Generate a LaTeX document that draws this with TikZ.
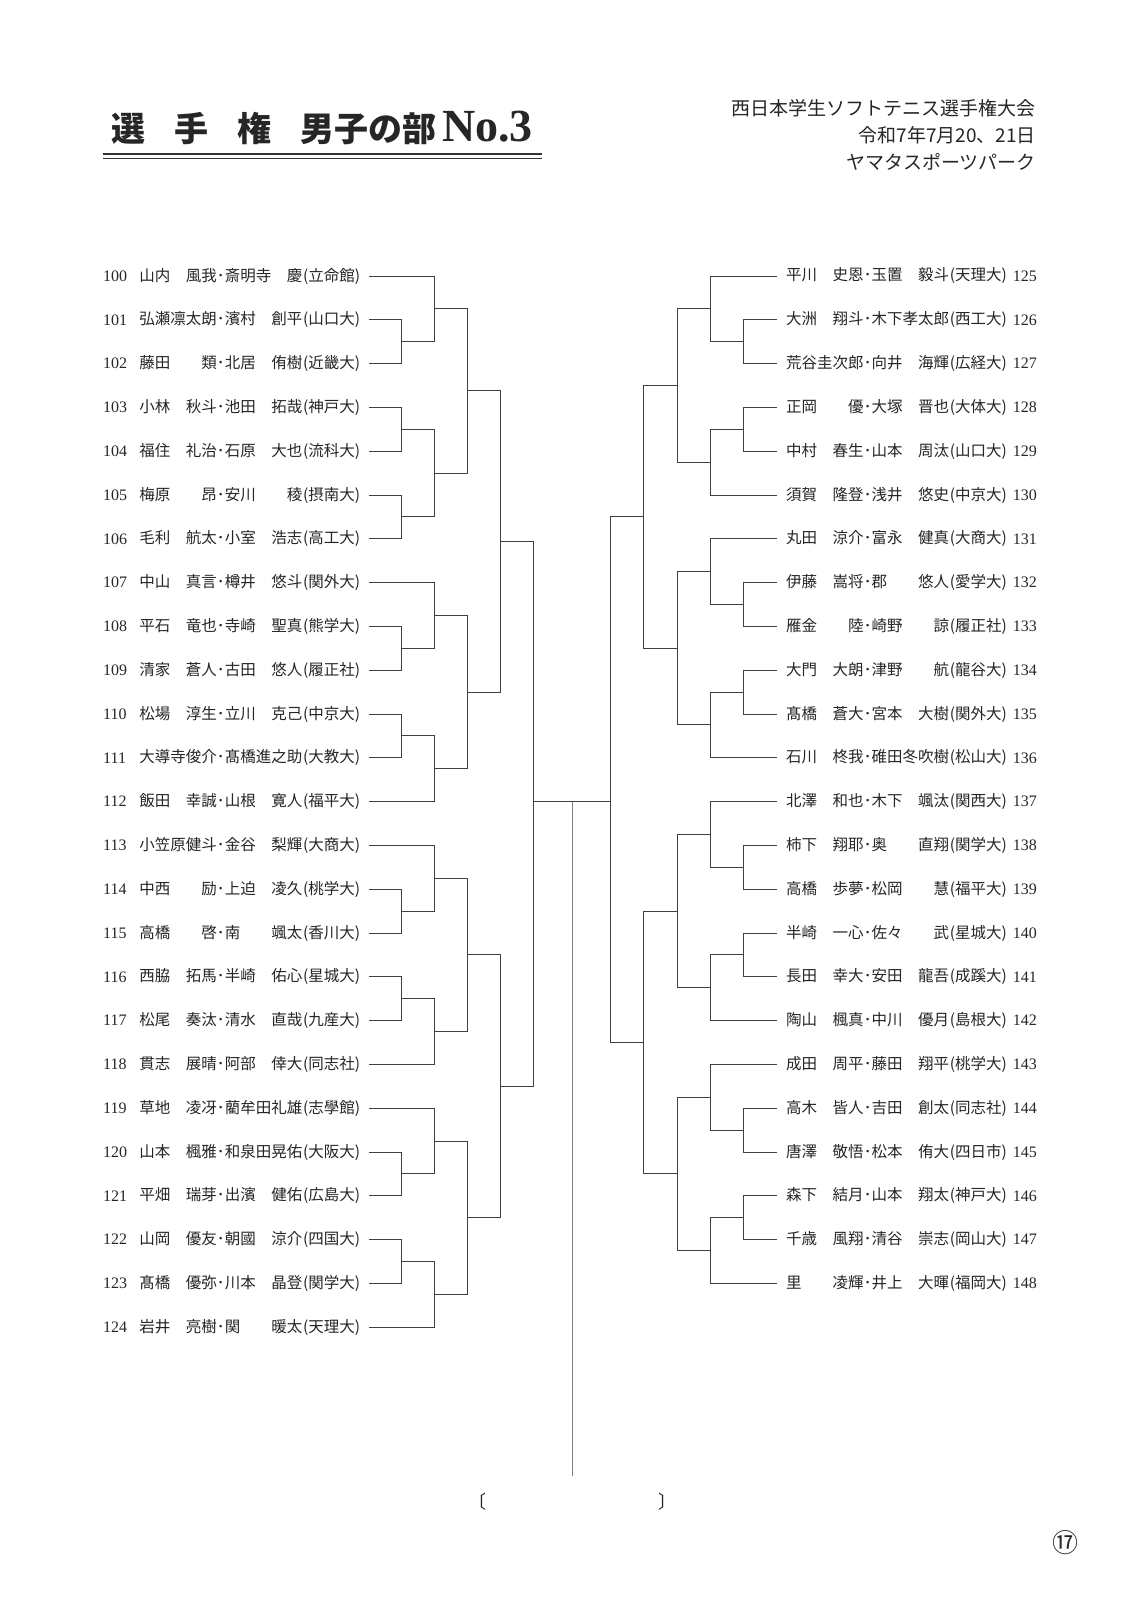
\documentclass[tikz,border=0pt]{standalone}
\usepackage{fontspec}
\setmainfont{Liberation Serif}
\newfontfamily\jp{Noto Sans CJK JP}
\usetikzlibrary{calc}

\newcommand\pla[2]{\makebox[77.5pt][l]{#1\hfill#2}}
\newcommand\duo[5]{\pla{#1}{#2}\makebox[8pt]{･}\pla{#3}{#4}\makebox[6pt][r]{(}#5\makebox[6pt][l]{)}}
\newcommand\bout[4]{%
	\draw[bk] (#1) -| (#2 -| #3) -- (#2);
	\coordinate (#4) at ($(#1 -| #3)!.5!(#2 -| #3)$);}

\begin{document}
\begin{tikzpicture}[x=1pt, y=-1pt,
	bk/.style={draw=black!75, line width=1pt},
	mid/.style={draw=black!50, line width=1.4pt},
	txt/.style={inner sep=0pt, text=black!85},
	namel/.style={txt, anchor=east, font=\jp\fontsize{15.5}{15.5}\selectfont},
	namer/.style={namel, anchor=west},
	numl/.style={txt, anchor=west, font=\fontsize{16}{16}\selectfont},
	numr/.style={numl, anchor=east},
	head/.style={txt, anchor=east, font=\jp\fontsize{19}{19}\selectfont}]

\path[fill=white] (0,0) rectangle (1148,1614);
\useasboundingbox (0,0) rectangle (1148,1614);

\node[txt, anchor=base west, font=\jp\bfseries\fontsize{34}{34}\selectfont] (title) at (111,141.5)
	{選\hspace{29pt}手\hspace{29pt}権\hspace{29pt}男子の部\hspace{6pt}{\rmfamily\fontsize{46}{46}\selectfont No.3}};
\draw[line width=1.8pt, black!80] (103,154.3) -- (542,154.3);
\draw[line width=0.8pt, black!80] (103,158.6) -- (542,158.6);

\node[head] (meet) at (1036,108) {西日本学生ソフトテニス選手権大会};
\node[head] (date) at (1036,134.8) {令和7年7月20、21日};
\node[head] (venue) at (1036,161.5) {ヤマタスポーツパーク};

\foreach \c/\x in {L1/401.5, L2/434.6, L3/467.7, L4/500.8, L5/533.9, R5/610.8, R4/643.9, R3/677, R2/710.1, R1/743.2}
	\coordinate (\c) at (\x,0);

\foreach \nr/\sna/\gna/\snb/\gnb/\sch in {100/山内/風我/斎明寺/慶/立命館,
	101/弘瀬/凛太朗/濱村/創平/山口大, 102/藤田/類/北居/侑樹/近畿大,
	103/小林/秋斗/池田/拓哉/神戸大, 104/福住/礼治/石原/大也/流科大,
	105/梅原/昂/安川/稜/摂南大, 106/毛利/航太/小室/浩志/高工大,
	107/中山/真言/樽井/悠斗/関外大, 108/平石/竜也/寺崎/聖真/熊学大,
	109/清家/蒼人/古田/悠人/履正社, 110/松場/淳生/立川/克己/中京大,
	111/大導寺/俊介/髙橋/進之助/大教大, 112/飯田/幸誠/山根/寛人/福平大,
	113/小笠原/健斗/金谷/梨輝/大商大, 114/中西/励/上迫/凌久/桃学大,
	115/高橋/啓/南/颯太/香川大, 116/西脇/拓馬/半崎/佑心/星城大,
	117/松尾/奏汰/清水/直哉/九産大, 118/貫志/展晴/阿部/倖大/同志社,
	119/草地/凌冴/藺牟田/礼雄/志學館, 120/山本/楓雅/和泉田/晃佑/大阪大,
	121/平畑/瑞芽/出濱/健佑/広島大, 122/山岡/優友/朝國/涼介/四国大,
	123/髙橋/優弥/川本/晶登/関学大, 124/岩井/亮樹/関/暖太/天理大}
{
	\node[numl] (n\nr) at (103,{276+43.8*(\nr-100)}) {\nr};
	\node[namel] (p\nr) at (361,{276+43.8*(\nr-100)}) {\duo{\sna}{\gna}{\snb}{\gnb}{\sch}};
	\coordinate (e\nr) at ([xshift=7.5pt]p\nr.east);
}

\foreach \nr/\sna/\gna/\snb/\gnb/\sch in {125/平川/史恩/玉置/毅斗/天理大,
	126/大洲/翔斗/木下/孝太郎/西工大, 127/荒谷/圭次郎/向井/海輝/広経大,
	128/正岡/優/大塚/晋也/大体大, 129/中村/春生/山本/周汰/山口大,
	130/須賀/隆登/浅井/悠史/中京大, 131/丸田/涼介/富永/健真/大商大,
	132/伊藤/嵩将/郡/悠人/愛学大, 133/雁金/陸/崎野/諒/履正社,
	134/大門/大朗/津野/航/龍谷大, 135/髙橋/蒼大/宮本/大樹/関外大,
	136/石川/柊我/碓田/冬吹樹/松山大, 137/北澤/和也/木下/颯汰/関西大,
	138/柿下/翔耶/奥/直翔/関学大, 139/高橋/歩夢/松岡/慧/福平大,
	140/半崎/一心/佐々/武/星城大, 141/長田/幸大/安田/龍吾/成蹊大,
	142/陶山/楓真/中川/優月/島根大, 143/成田/周平/藤田/翔平/桃学大,
	144/高木/皆人/吉田/創太/同志社, 145/唐澤/敬悟/松本/侑大/四日市,
	146/森下/結月/山本/翔太/神戸大, 147/千歳/風翔/清谷/崇志/岡山大,
	148/里/凌輝/井上/大暉/福岡大}
{
	\node[numr] (n\nr) at (1037,{276+43.8*(\nr-125)}) {\nr};
	\node[namer] (q\nr) at (786,{276+43.8*(\nr-125)}) {\duo{\sna}{\gna}{\snb}{\gnb}{\sch}};
	\coordinate (e\nr) at ([xshift=-9.5pt]q\nr.west);
}

\bout{e101}{e102}{L1}{a1}
\bout{e100}{a1}{L2}{a2}
\bout{e103}{e104}{L1}{a3}
\bout{e105}{e106}{L1}{a4}
\bout{a3}{a4}{L2}{a5}
\bout{a2}{a5}{L3}{a6}
\bout{e108}{e109}{L1}{a7}
\bout{e107}{a7}{L2}{a8}
\bout{e110}{e111}{L1}{a9}
\bout{a9}{e112}{L2}{a10}
\bout{a8}{a10}{L3}{a11}
\bout{a6}{a11}{L4}{a12}
\bout{e114}{e115}{L1}{b1}
\bout{e113}{b1}{L2}{b2}
\bout{e116}{e117}{L1}{b3}
\bout{b3}{e118}{L2}{b4}
\bout{b2}{b4}{L3}{b5}
\bout{e120}{e121}{L1}{b6}
\bout{e119}{b6}{L2}{b7}
\bout{e122}{e123}{L1}{b8}
\bout{b8}{e124}{L2}{b9}
\bout{b7}{b9}{L3}{b10}
\bout{b5}{b10}{L4}{b11}
\bout{a12}{b11}{L5}{lw}

\bout{e126}{e127}{R1}{c1}
\bout{e125}{c1}{R2}{c2}
\bout{e128}{e129}{R1}{c3}
\bout{c3}{e130}{R2}{c4}
\bout{c2}{c4}{R3}{c5}
\bout{e132}{e133}{R1}{c6}
\bout{e131}{c6}{R2}{c7}
\bout{e134}{e135}{R1}{c8}
\bout{c8}{e136}{R2}{c9}
\bout{c7}{c9}{R3}{c10}
\bout{c5}{c10}{R4}{c11}
\bout{e138}{e139}{R1}{d1}
\bout{e137}{d1}{R2}{d2}
\bout{e140}{e141}{R1}{d3}
\bout{d3}{e142}{R2}{d4}
\bout{d2}{d4}{R3}{d5}
\bout{e144}{e145}{R1}{d6}
\bout{e143}{d6}{R2}{d7}
\bout{e146}{e147}{R1}{d8}
\bout{d8}{e148}{R2}{d9}
\bout{d7}{d9}{R3}{d10}
\bout{d5}{d10}{R4}{d11}
\bout{c11}{d11}{R5}{rw}

\coordinate (fin) at (572.4,801.6);
\coordinate (foot) at (572.4,1476);
\draw[bk] (fin -| lw) -- (fin -| rw);
\draw[mid] (fin) -- (foot);

\node[txt, font=\jp\fontsize{18}{18}\selectfont] (lbr) at (477,1502) {〔};
\node[txt, font=\jp\fontsize{18}{18}\selectfont] (rbr) at (667,1502) {〕};
\node[txt, font=\jp\fontsize{26}{26}\selectfont] (page) at (1065,1543) {⑰};

\end{tikzpicture}
\end{document}
